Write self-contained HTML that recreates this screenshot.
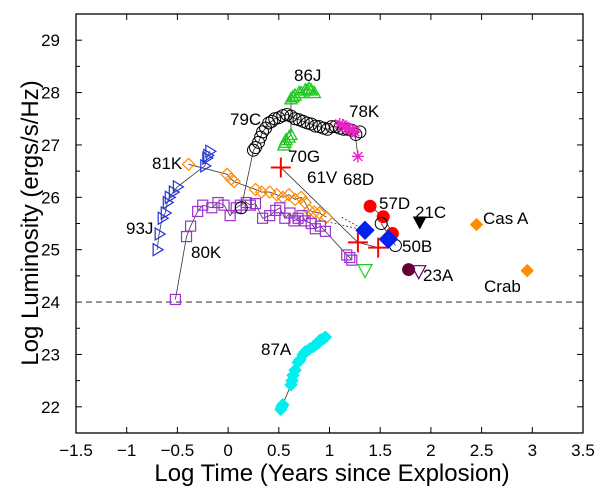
<!DOCTYPE html>
<html><head><meta charset="utf-8"><style>
body{margin:0;background:#fff}
svg{display:block;font-family:"Liberation Sans",Arial,sans-serif}
</style></head><body>
<svg id="c" width="601" height="496"></svg>
<script>
const xTicks=[-1.5,-1,-0.5,0,0.5,1,1.5,2,2.5,3,3.5];
const yTicks=[22,23,24,25,26,27,28,29];
const sn93J=[[-0.70,25.0],[-0.68,25.3],[-0.65,25.6],[-0.62,25.7],[-0.60,25.9],[-0.58,26.0],[-0.54,26.1],[-0.50,26.2],[-0.23,26.6],[-0.21,26.75],[-0.20,26.8],[-0.18,26.88]];
const sn81K=[[-0.39,26.63],[-0.01,26.44],[0.03,26.35],[0.06,26.3],[0.27,26.15],[0.33,26.1],[0.41,26.1],[0.48,26.05],[0.54,26.0],[0.60,26.05],[0.66,25.96],[0.72,26.0],[0.76,25.9],[0.80,25.75],[0.85,25.72],[0.90,25.7],[0.97,25.62]];
const sn80K=[[-0.52,24.05],[-0.41,25.25],[-0.37,25.45],[-0.30,25.73],[-0.25,25.85],[-0.16,25.8],[-0.10,25.9],[-0.04,25.85],[0.02,25.65],[0.08,25.8],[0.12,25.85],[0.18,25.9],[0.22,25.85],[0.27,25.88],[0.34,25.6],[0.41,25.65],[0.47,25.75],[0.51,25.8],[0.56,25.6],[0.61,25.7],[0.65,25.55],[0.69,25.6],[0.73,25.65],[0.76,25.55],[0.82,25.5],[0.86,25.4],[0.91,25.45],[0.96,25.35],[1.17,24.9],[1.20,24.85],[1.22,24.8]];
const sn79C=[[0.13,25.8],[0.25,26.9],[0.27,26.95],[0.30,27.05],[0.32,27.15],[0.34,27.25],[0.37,27.32],[0.40,27.42],[0.43,27.45],[0.46,27.5],[0.50,27.52],[0.54,27.56],[0.58,27.58],[0.62,27.55],[0.66,27.5],[0.70,27.48],[0.74,27.45],[0.78,27.42],[0.82,27.4],[0.86,27.36],[0.90,27.35],[0.94,27.32],[0.98,27.3],[1.02,27.35],[1.06,27.35],[1.10,27.32],[1.14,27.3],[1.18,27.3],[1.22,27.28],[1.26,27.2],[1.30,27.25]];
const sn86J=[[0.55,27.0],[0.56,27.05],[0.57,27.1],[0.60,27.15],[0.62,27.2],[0.62,27.88],[0.64,27.92],[0.66,27.95],[0.70,28.0],[0.72,28.0],[0.76,28.05],[0.78,28.05],[0.80,28.08],[0.82,28.05],[0.85,28.0]];
const sn78K=[[1.10,27.4],[1.13,27.38],[1.15,27.35],[1.18,27.32],[1.20,27.3],[1.23,27.27],[1.25,27.25],[1.28,26.78]];
const sn87A=[[0.52,21.95],[0.54,22.04],[0.53,22.0],[0.62,22.42],[0.63,22.5],[0.64,22.6],[0.66,22.7],[0.69,22.85],[0.71,22.9],[0.74,23.0],[0.76,23.05],[0.80,23.1],[0.84,23.15],[0.86,23.18],[0.89,23.22],[0.91,23.28],[0.94,23.3],[0.96,23.33]];
const sn70G=[[0.52,26.57],[1.28,25.14],[1.48,25.04]];
const snBlue=[[1.35,25.37],[1.58,25.2]];
const sn57D=[[1.40,25.83],[1.53,25.63],[1.62,25.31]];
const sn50B=[[1.51,25.5],[1.65,25.08]];
const sn21C=[[1.89,25.52]];
const sn23Adot=[[1.78,24.62]];
const sn23Atri=[[1.88,24.58]];
const snGreenTri=[[1.35,24.6]];
const snCasA=[[2.45,25.48]];
const snCrab=[[2.95,24.6]];

const L=76,R=583,T=14,B=433,X0=-1.5,X1=3.5,Y0=21.5,Y1=29.5;
const sx=v=>L+(v-X0)/(X1-X0)*(R-L);
const sy=v=>B-(v-Y0)/(Y1-Y0)*(B-T);
const svg=document.getElementById('c');const NS='http://www.w3.org/2000/svg';
function mk(t,a,p){const e=document.createElementNS(NS,t);for(const k in a)e.setAttribute(k,a[k]);(p||svg).appendChild(e);return e;}
function txt(s,x,y,size,anchor){const e=mk('text',{x:x,y:y,'font-size':size,'text-anchor':anchor||'start',fill:'#000'});e.textContent=s;return e;}
const fr=mk('rect',{x:L,y:T,width:R-L,height:B-T,fill:'none',stroke:'#000','stroke-width':1.3});


xTicks.forEach(v=>{const x=sx(v);mk('line',{x1:x,x2:x,y1:B,y2:B-6,stroke:'#000'});mk('line',{x1:x,x2:x,y1:T,y2:T+6,stroke:'#000'});
const t=txt(String(v).replace('-','\u2212'),x,456,17,'middle');});
yTicks.forEach(v=>{const y=sy(v);mk('line',{x1:L,x2:L+6,y1:y,y2:y,stroke:'#000'});mk('line',{x1:R,x2:R-6,y1:y,y2:y,stroke:'#000'});
const m=sy(v+0.5);mk('line',{x1:L,x2:L+4,y1:m,y2:m,stroke:'#000'});mk('line',{x1:R,x2:R-4,y1:m,y2:m,stroke:'#000'});
const t=txt(String(v),60,y+6,17,'end');});
const xt=txt('Log Time (Years since Explosion)',332,481,24,'middle');

const yt=txt('Log Luminosity (ergs/s/Hz)',0,0,24,'middle');yt.setAttribute('transform','translate(38,223) rotate(-90)');

const dl=mk('line',{x1:L,x2:R,y1:sy(24),y2:sy(24),stroke:'#444','stroke-dasharray':'6,4','stroke-width':1.2});


function line(d,name,dash){const e=mk('polyline',{points:d.map(p=>sx(p[0])+','+sy(p[1])).join(' '),fill:'none',stroke:'#333','stroke-width':0.8,'stroke-dasharray':dash||''});}
function marker(type,x,y,col,s){
 let e;
 if(type=='rtri')e=mk('polygon',{points:`${x-4},${y-6} ${x+6},${y} ${x-4},${y+6}`,fill:'none',stroke:col,'stroke-width':1.2});
 else if(type=='diamO')e=mk('polygon',{points:`${x},${y-6} ${x+6},${y} ${x},${y+6} ${x-6},${y}`,fill:'none',stroke:col,'stroke-width':1.2});
 else if(type=='diamF')e=mk('polygon',{points:`${x},${y-s} ${x+s},${y} ${x},${y+s} ${x-s},${y}`,fill:col,stroke:col});
 else if(type=='sq')e=mk('rect',{x:x-5,y:y-5,width:10,height:10,fill:'none',stroke:col,'stroke-width':1.2});
 else if(type=='circO')e=mk('circle',{cx:x,cy:y,r:6,fill:'none',stroke:col,'stroke-width':1});
 else if(type=='circF')e=mk('circle',{cx:x,cy:y,r:s,fill:col});
 else if(type=='tri')e=mk('polygon',{points:`${x},${y-6} ${x+6},${y+5} ${x-6},${y+5}`,fill:'none',stroke:col,'stroke-width':1.4});
 else if(type=='dtriO')e=mk('polygon',{points:`${x-7},${y-6} ${x+7},${y-6} ${x},${y+7}`,fill:'none',stroke:col,'stroke-width':1.2});
 else if(type=='dtriF')e=mk('polygon',{points:`${x-7},${y-6} ${x+7},${y-6} ${x},${y+7}`,fill:col});
 else if(type=='plus')e=mk('path',{d:`M${x-10},${y}H${x+10}M${x},${y-10}V${y+10}`,stroke:col,'stroke-width':2});
 else if(type=='star')e=mk('path',{d:`M${x-6},${y}H${x+6}M${x},${y-6}V${y+6}M${x-4.5},${y-4.5}L${x+4.5},${y+4.5}M${x-4.5},${y+4.5}L${x+4.5},${y-4.5}`,stroke:col,'stroke-width':1.4});
 return e;}
function series(d,type,col,name,s){d.forEach(p=>{const e=marker(type,sx(p[0]),sy(p[1]),col,s);});}

line(sn93J,'line-93j');line(sn81K,'line-81k');line(sn80K,'line-80k');line(sn79C,'line-79c');line(sn86J,'line-86j');line(sn78K,'line-78k');line(sn87A,'line-87a');line(sn70G,'line-70g');line(sn57D,'line-57d');line(sn50B,'line-50b');
line([[0.78,25.62],snBlue[0]],'line-61v','2,2');line([[1.12,25.62],snBlue[0]],'line-68d','2,2');
series(sn93J,'rtri','#2233dd','point-93j');
series(sn81K,'diamO','#ff8c00','point-81k');
series(sn80K,'sq','#9933cc','point-80k');
series(sn79C,'circO','#000','point-79c');
series(sn86J,'tri','#22cc22','point-86j');
series(sn78K,'star','#ee22cc','point-78k');
series(sn87A,'diamF','#00eeee','point-87a',6);
series(sn70G,'plus','#ff0000','point-70g');
series(sn57D,'circF','#ff0000','point-57d',6.5);
series(sn50B,'circO','#000','point-50b');
series(snBlue,'diamF','#0022ee','point-61v-68d',9);
series(sn21C,'dtriF','#000','point-21c');
series(sn23Adot,'circF','#660033','point-23a',6.5);
series(sn23Atri,'dtriO','#660066','point-23a-tri');
series(snGreenTri,'dtriO','#22cc22','point-green-tri');
series(snCasA,'diamF','#ff8c00','point-cas-a',6);
series(snCrab,'diamF','#ff8c00','point-crab',6);

[['86J',294,81],['79C',230,125],['78K',349,117],['81K',152,169],['70G',288,162],['61V',307,183],['68D',343,185],['57D',379,209],['21C',415,218],['Cas A',483,224],['50B',402,252],['23A',423,281],['Crab',484,292],['93J',126,234],['80K',191,258],['87A',261,355]].forEach(l=>{const t=txt(l[0],l[1],l[2],17);});
</script>
</body></html>
